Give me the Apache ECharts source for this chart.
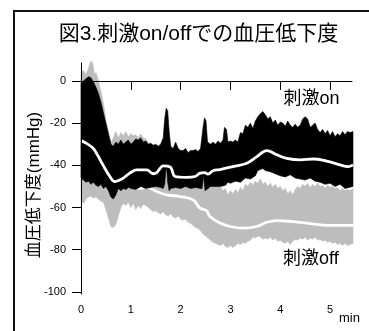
<!DOCTYPE html>
<html><head><meta charset="utf-8">
<script src="https://cdn.jsdelivr.net/npm/echarts@6/dist/echarts.min.js"></script>
<style>html,body{margin:0;padding:0;background:#fff}#c{width:369px;height:331px}</style>
</head><body><div id="c"></div>
<script>
var FONT = "'Liberation Sans', Arial, 'Noto Sans CJK JP', sans-serif";
var xTicks = [0, 1, 2, 3, 4, 5];
var yTicks = [-100, -80, -60, -40, -20, 0];

// 刺激on band: upper / lower envelope [min, mmHg]
var onHi = [[0,-1],[0.05,0],[0.1,1],[0.15,2],[0.2,1.5],[0.25,-0.5],[0.3,-3],[0.35,-6],[0.4,-10],[0.45,-15],[0.5,-20],[0.55,-25],[0.6,-30],[0.65,-31],[0.7,-29],[0.75,-30],[0.8,-28],[0.85,-30],[0.9,-29],[0.95,-28],[1.0,-30],[1.05,-29],[1.1,-27.5],[1.15,-28],[1.2,-27],[1.25,-29],[1.3,-28.5],[1.35,-30],[1.4,-29.5],[1.45,-30.5],[1.5,-30],[1.55,-31],[1.6,-30],[1.65,-27],[1.68,-18],[1.71,-13],[1.74,-14],[1.77,-24],[1.8,-31],[1.85,-32],[1.9,-29],[1.95,-32],[2.0,-33],[2.05,-33],[2.1,-32],[2.15,-34],[2.2,-33],[2.25,-33],[2.3,-32.5],[2.35,-33.5],[2.4,-32],[2.45,-22],[2.48,-17.5],[2.51,-19],[2.54,-29],[2.6,-30],[2.65,-29],[2.7,-30],[2.75,-28.5],[2.8,-29.5],[2.85,-28],[2.88,-22],[2.92,-23],[2.95,-29],[3.0,-28.5],[3.05,-29],[3.1,-28],[3.15,-29],[3.2,-24.5],[3.25,-25],[3.3,-21],[3.35,-22],[3.4,-20],[3.45,-22.5],[3.5,-19],[3.55,-17],[3.6,-15.5],[3.65,-14.5],[3.7,-16],[3.75,-18],[3.8,-17],[3.85,-20],[3.9,-18.5],[3.95,-21],[4.0,-19.5],[4.05,-20],[4.1,-21.5],[4.15,-19],[4.2,-21],[4.25,-22],[4.3,-20.5],[4.35,-22],[4.4,-21],[4.45,-18],[4.5,-17],[4.55,-18],[4.6,-22],[4.65,-21],[4.7,-20],[4.75,-23],[4.8,-24.5],[4.85,-23],[4.9,-25],[4.95,-23.5],[5.0,-26],[5.05,-24],[5.1,-26.5],[5.15,-25],[5.2,-26],[5.25,-24],[5.3,-25.5],[5.35,-24],[5.4,-24.5],[5.46,-24]];
var onLo = [[0,-46],[0.05,-47],[0.1,-48],[0.15,-47.5],[0.2,-49],[0.25,-48],[0.3,-49.5],[0.35,-50],[0.4,-49],[0.45,-51],[0.5,-50],[0.55,-52],[0.6,-55],[0.65,-56],[0.7,-54],[0.75,-51],[0.8,-52],[0.85,-51],[0.9,-51.5],[0.95,-50.5],[1.0,-51],[1.1,-51.5],[1.2,-50],[1.3,-51],[1.4,-50.5],[1.5,-50],[1.6,-50.5],[1.65,-51],[1.68,-49],[1.7,-43],[1.72,-41],[1.74,-48],[1.77,-52],[1.8,-51],[1.9,-50.5],[2.0,-51],[2.1,-50],[2.2,-51],[2.3,-50.5],[2.4,-51],[2.43,-51],[2.46,-45],[2.49,-52],[2.55,-51],[2.6,-50],[2.7,-50],[2.8,-50],[2.9,-49.5],[2.95,-48],[3.0,-48.5],[3.1,-47.5],[3.2,-48],[3.3,-46],[3.4,-46.5],[3.5,-45],[3.55,-42.5],[3.6,-42],[3.65,-41.5],[3.7,-42.5],[3.8,-43],[3.9,-44],[4.0,-45],[4.1,-45.5],[4.2,-44.5],[4.3,-46],[4.4,-46.5],[4.5,-47],[4.6,-46],[4.7,-47.5],[4.8,-48],[4.9,-49],[5.0,-48.5],[5.1,-50],[5.2,-49],[5.3,-51],[5.46,-50]];
// 刺激off band
var offHi = [[0,4],[0.05,5],[0.1,3],[0.15,6],[0.18,8.5],[0.21,9.5],[0.24,8],[0.27,3],[0.3,4],[0.34,1],[0.38,-3],[0.42,-7],[0.46,-12],[0.5,-19],[0.54,-23],[0.58,-27],[0.62,-29],[0.66,-26],[0.7,-24],[0.75,-27],[0.8,-24.5],[0.85,-26],[0.9,-24],[0.95,-26.5],[1.0,-25],[1.05,-26],[1.1,-25.5],[1.15,-27],[1.2,-25],[1.25,-27],[1.3,-27.5],[1.35,-29],[1.4,-33],[1.45,-38],[1.5,-41],[1.6,-42],[1.68,-43],[1.72,-41],[1.76,-44],[1.9,-44],[2.1,-45],[2.3,-46],[2.5,-47],[2.6,-48],[2.7,-49],[2.8,-50],[2.85,-52],[2.9,-51],[2.95,-54],[3.0,-52],[3.05,-53.5],[3.1,-51.5],[3.15,-53],[3.2,-50.5],[3.25,-52],[3.3,-49],[3.35,-50],[3.4,-48],[3.45,-49.5],[3.5,-47.5],[3.55,-48.5],[3.6,-46.5],[3.65,-49],[3.7,-48],[3.75,-50],[3.8,-48.5],[3.85,-50.5],[3.9,-49],[3.95,-51],[4.0,-50],[4.05,-52],[4.1,-51],[4.15,-53.5],[4.2,-52],[4.25,-54],[4.3,-51.5],[4.35,-50],[4.4,-51],[4.45,-49],[4.5,-50],[4.55,-48.5],[4.6,-50.5],[4.65,-49],[4.7,-50],[4.75,-48.5],[4.8,-50],[4.85,-49.5],[4.9,-51],[4.95,-49.5],[5.0,-50.5],[5.05,-50],[5.1,-51],[5.15,-50.5],[5.2,-52],[5.25,-51],[5.3,-52],[5.35,-51.5],[5.4,-52],[5.46,-51]];
var offLo = [[0,-57],[0.05,-58],[0.1,-56],[0.15,-55],[0.2,-54.5],[0.25,-55.5],[0.3,-55],[0.35,-56],[0.4,-57],[0.45,-57.5],[0.5,-61],[0.55,-65],[0.6,-69],[0.65,-69.5],[0.7,-68],[0.75,-64],[0.8,-60],[0.85,-58],[0.9,-59],[0.95,-57.5],[1.0,-60],[1.05,-58],[1.1,-61],[1.15,-59],[1.2,-60.5],[1.25,-58.5],[1.3,-59],[1.35,-60],[1.4,-61],[1.45,-62],[1.5,-61.5],[1.55,-62.5],[1.6,-63],[1.65,-62],[1.7,-63.5],[1.75,-64],[1.8,-63],[1.85,-64.5],[1.9,-65],[1.95,-64],[2.0,-65.5],[2.05,-66],[2.1,-65.5],[2.15,-67],[2.2,-67.5],[2.25,-68.5],[2.3,-69.5],[2.35,-70],[2.4,-71],[2.45,-72.5],[2.5,-73.5],[2.55,-74.5],[2.6,-75.5],[2.65,-76.5],[2.7,-77],[2.75,-77.5],[2.8,-78],[2.85,-77],[2.9,-78.5],[2.95,-79],[3.0,-78],[3.05,-79],[3.1,-78],[3.15,-77],[3.2,-77.5],[3.25,-76.5],[3.3,-77],[3.35,-76],[3.4,-75.5],[3.45,-74],[3.5,-74.5],[3.55,-73.5],[3.6,-74],[3.65,-75],[3.7,-74.5],[3.75,-75],[3.8,-74],[3.85,-75.5],[3.9,-74.5],[3.95,-76],[4.0,-75.5],[4.05,-76.5],[4.1,-77],[4.15,-76],[4.2,-77.5],[4.25,-76],[4.3,-75],[4.35,-75.5],[4.4,-74.5],[4.45,-75],[4.5,-74],[4.55,-75.5],[4.6,-74.5],[4.65,-75],[4.7,-74],[4.75,-75.5],[4.8,-75],[4.85,-76],[4.9,-75.5],[4.95,-76.5],[5.0,-76],[5.05,-77],[5.1,-76.5],[5.15,-77.5],[5.2,-77],[5.25,-78],[5.3,-77],[5.35,-78],[5.4,-77.5],[5.46,-77]];
// mean traces
var onMean = [[0,-28.3],[0.1,-29.5],[0.24,-31.8],[0.34,-35.5],[0.44,-39.8],[0.58,-45.3],[0.68,-47.7],[0.82,-46.5],[0.98,-43.7],[1.12,-42.2],[1.32,-42.2],[1.45,-44],[1.52,-43.5],[1.59,-41.4],[1.65,-40.3],[1.79,-40.8],[1.89,-45.3],[2.12,-45.7],[2.29,-45.3],[2.39,-43.7],[2.48,-43.5],[2.55,-44.2],[2.65,-42.6],[2.79,-42],[3.05,-40.6],[3.33,-39],[3.53,-35.9],[3.73,-33],[3.93,-35],[4.13,-36.7],[4.4,-37.4],[4.66,-37],[4.93,-38],[5.2,-39.8],[5.36,-40.6],[5.46,-39.8]];
var offMean = [[0,-42],[0.5,-45],[0.8,-48.5],[1.0,-50.5],[1.18,-50.9],[1.32,-50.4],[1.52,-52.4],[1.72,-54],[1.99,-54.8],[2.25,-56.4],[2.39,-60.3],[2.52,-61.5],[2.59,-64.3],[2.79,-67.4],[2.99,-69],[3.25,-69.8],[3.53,-69],[3.73,-67],[3.93,-66.2],[4.26,-66.7],[4.53,-67.4],[4.8,-68.2],[5.06,-68.5],[5.46,-68.5]];

function band(hi, lo, color, z) {
  return {
    type: 'custom', coordinateSystem: 'cartesian2d', data: [[0, 0]], clip: false, silent: true, z: z,
    renderItem: function (params, api) {
      var pts = [];
      for (var i = 0; i < hi.length; i++) pts.push(api.coord(hi[i]));
      for (var j = lo.length - 1; j >= 0; j--) pts.push(api.coord(lo[j]));
      return { type: 'polygon', shape: { points: pts }, style: { fill: color, stroke: color, lineWidth: 0.6 } };
    }
  };
}
function meanLine(d, z) {
  return { type: 'line', data: d, symbol: 'none', smooth: 0.4, clip: false, silent: true, z: z,
    lineStyle: { color: '#ffffff', width: 2.8 } };
}

var chart = echarts.init(document.getElementById('c'), null, { renderer: 'canvas' });
chart.setOption({
  animation: false,
  backgroundColor: '#ffffff',
  grid: { left: 79, right: 17, top: 63, bottom: 37, containLabel: false },
  xAxis: {
    type: 'value', min: -0.04, max: 5.44, z: 10,
    axisLine: { show: true, lineStyle: { color: '#000', width: 1 } },
    axisTick: { show: true, length: 9, lineStyle: { color: '#000' }, customValues: xTicks },
    axisLabel: { show: true, margin: 10, color: '#000', fontSize: 11, fontFamily: FONT, customValues: xTicks },
    splitLine: { show: false }
  },
  yAxis: {
    type: 'value', min: -101, max: 8.5, z: 10,
    axisLine: { show: true, lineStyle: { color: '#000', width: 1 } },
    axisTick: { show: true, length: 9, lineStyle: { color: '#000' }, customValues: yTicks },
    axisLabel: { show: true, margin: 13, color: '#000', fontSize: 11, fontFamily: FONT, customValues: yTicks },
    splitLine: { show: false }
  },
  series: [
    band(offHi, offLo, '#bdbdbd', 1),
    meanLine(offMean, 2),
    band(onHi, onLo, '#000000', 3),
    meanLine(onMean, 4)
  ],
  graphic: [
    { type: 'rect', silent: true, shape: { x: 14, y: 11, width: 420, height: 400 },
      style: { fill: 'none', stroke: '#111', lineWidth: 2 } },
    { type: 'text', x: 198.5, y: 34, silent: true,
      style: { text: '図3.刺激on/offでの血圧低下度', font: '21px ' + FONT, fill: '#000', align: 'center', verticalAlign: 'middle' } },
    { type: 'text', x: 34, y: 185, rotation: Math.PI / 2, silent: true,
      style: { text: '血圧低下度(mmHg)', font: '17px ' + FONT, fill: '#000', align: 'center', verticalAlign: 'middle' } },
    { type: 'text', x: 283.5, y: 99, silent: true,
      style: { text: '刺激on', font: '18px ' + FONT, fill: '#000', align: 'left', verticalAlign: 'middle' } },
    { type: 'text', x: 283, y: 259, silent: true,
      style: { text: '刺激off', font: '18px ' + FONT, fill: '#000', align: 'left', verticalAlign: 'middle' } },
    { type: 'text', x: 339, y: 318, silent: true,
      style: { text: 'min', font: '13px ' + FONT, fill: '#000', align: 'left', verticalAlign: 'middle' } }
  ]
});
</script>
</body></html>
